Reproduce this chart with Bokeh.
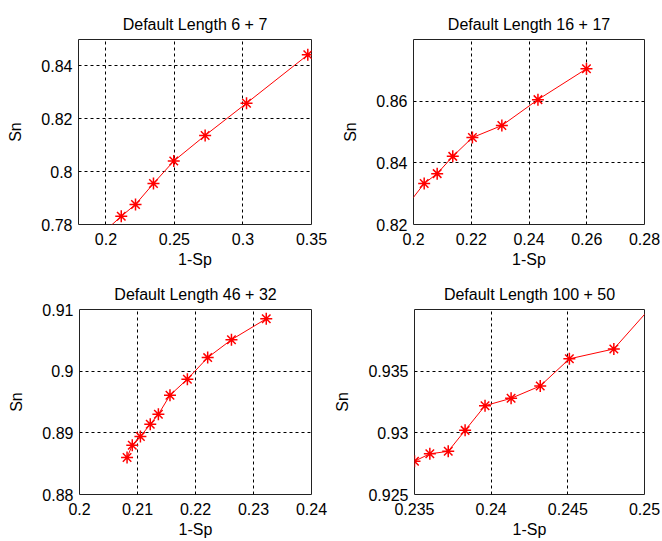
from bokeh.plotting import figure
from bokeh.layouts import column, row
from bokeh.models import FixedTicker, Range1d, CustomJSTickFormatter
from bokeh.embed import file_html
from bokeh.resources import INLINE

# ---- data ----
titles = ["Default Length 6 + 7", "Default Length 16 + 17",
          "Default Length 46 + 32", "Default Length 100 + 50"]

x1 = [0.197, 0.2112, 0.2216, 0.2347, 0.2495, 0.2724, 0.3026, 0.3473]
y1 = [0.7765, 0.7831, 0.7876, 0.7955, 0.8040, 0.8137, 0.8259, 0.8442]
m1 = [False, True, True, True, True, True, True, True]

x2 = [0.196, 0.2037, 0.2082, 0.2136, 0.2204, 0.2306, 0.2431, 0.2599]
y2 = [0.8240, 0.8333, 0.8365, 0.8421, 0.8482, 0.8521, 0.8605, 0.8705]
m2 = [False, True, True, True, True, True, True, True]

x3 = [0.2082, 0.2091, 0.2105, 0.2122, 0.2136, 0.2156, 0.2186, 0.2221, 0.2262, 0.2322]
y3 = [0.8860, 0.8880, 0.8894, 0.8914, 0.8930, 0.8961, 0.8987, 0.9022, 0.9051, 0.9085]
m3 = [True] * 10

x4 = [0.2350, 0.2360, 0.2372, 0.2383, 0.2396, 0.2413, 0.2432, 0.2451, 0.2480, 0.2515]
y4 = [0.9277, 0.9283, 0.9285, 0.9302, 0.9322, 0.9328, 0.9338, 0.9360, 0.9368, 0.9417]
m4 = [True, True, True, True, True, True, True, True, True, False]

xlims = [(0.18, 0.35), (0.2, 0.28), (0.2, 0.24), (0.235, 0.25)]
ylims = [(0.78, 0.85), (0.82, 0.88), (0.88, 0.91), (0.925, 0.94)]
xticks = [[0.2, 0.25, 0.3, 0.35], [0.2, 0.22, 0.24, 0.26, 0.28],
          [0.2, 0.21, 0.22, 0.23, 0.24], [0.235, 0.24, 0.245, 0.25]]
yticks = [[0.78, 0.8, 0.82, 0.84], [0.82, 0.84, 0.86],
          [0.88, 0.89, 0.9, 0.91], [0.925, 0.93, 0.935]]
xlabel = "1-Sp"
ylabel = "Sn"

FONT = "Liberation Sans"

# layout geometry: (width, height, left, right, top, bottom)
geo = [
    (331, 270, 78, 20, 39, 46),
    (331, 270, 82, 18, 39, 46),
    (331, 271, 79, 20, 38, 47),
    (331, 271, 82, 18, 39, 47),
]

series = [(x1, y1, m1), (x2, y2, m2), (x3, y3, m3), (x4, y4, m4)]

figs = []
for i in range(4):
    w, h, bl, br, bt, bb = geo[i]
    p = figure(width=w, height=h, output_backend="svg", toolbar_location=None,
               x_range=Range1d(*xlims[i]), y_range=Range1d(*ylims[i]),
               min_border_left=bl, min_border_right=br,
               min_border_top=bt, min_border_bottom=bb,
               title=titles[i])
    p.title.align = "center"
    p.title.vertical_align = "top"
    p.title.text_font = FONT
    p.title.text_font_size = "16px"
    p.title.text_font_style = "normal"
    p.title.text_color = "black"
    p.title.standoff = 10
    p.background_fill_color = "white"
    p.border_fill_color = "white"
    p.outline_line_color = "#222222"
    p.outline_line_width = 1
    p.outline_line_alpha = 1

    for ax, ticks, lab in ((p.xaxis[0], xticks[i], xlabel), (p.yaxis[0], yticks[i], ylabel)):
        ax.ticker = FixedTicker(ticks=ticks)
        ax.formatter = CustomJSTickFormatter(
            code="return (Math.round(tick*100000)/100000).toString();")
        ax.axis_label = lab
        ax.axis_label_text_font = FONT
        ax.axis_label_text_font_size = "16px"
        ax.axis_label_text_font_style = "normal"
        ax.axis_label_text_color = "black"
        ax.major_label_text_font = FONT
        ax.major_label_text_font_size = "16px"
        ax.major_label_text_color = "black"
        ax.axis_line_color = None
        ax.major_tick_in = 0
        ax.major_tick_out = 0
        ax.minor_tick_line_color = None
    p.xaxis[0].major_label_standoff = 8
    p.xaxis[0].axis_label_standoff = 3
    p.yaxis[0].major_label_standoff = 6
    p.yaxis[0].axis_label_standoff = 14

    p.xgrid[0].ticker = FixedTicker(ticks=xticks[i])
    p.ygrid[0].ticker = FixedTicker(ticks=yticks[i])
    for g in (p.xgrid[0], p.ygrid[0]):
        g.grid_line_color = "black"
        g.grid_line_dash = "3 3"
        g.grid_line_width = 1
        g.grid_line_alpha = 1

    xs, ys, ms = series[i]
    p.line(xs, ys, line_color="red", line_width=1)
    mx = [a for a, k in zip(xs, ms) if k]
    my = [b for b, k in zip(ys, ms) if k]
    p.scatter(mx, my, marker="asterisk", size=12, line_color="red", line_width=1.5)
    figs.append(p)

layout = column(row(figs[0], figs[1]), row(figs[2], figs[3]))

open("out.html", "w").write(file_html(layout, INLINE))
